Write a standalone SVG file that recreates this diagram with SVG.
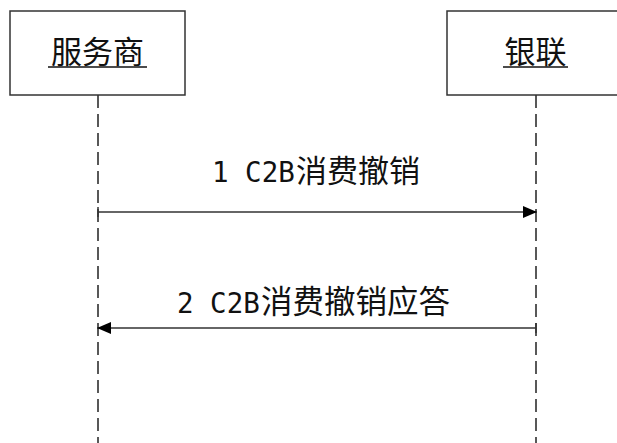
<svg xmlns="http://www.w3.org/2000/svg" width="617" height="443" viewBox="0 0 617 443">
<defs>
<style>
.box{fill:#fff;stroke:#333;stroke-width:1.5}
.lbl{font-family:"Noto Sans CJK SC","Liberation Sans",sans-serif;font-size:31px;fill:#111;text-anchor:middle}
.life{stroke:#222;stroke-width:1.5;stroke-dasharray:13 6;fill:none}
.msg{stroke:#333;stroke-width:1.5;fill:none}
.mtxt{font-family:"Noto Sans CJK SC","Liberation Sans",sans-serif;font-size:31px;fill:#111}
.lat{font-family:"DejaVu Sans Mono","Liberation Mono",monospace;font-size:27.5px}
</style>
<marker id="ah" viewBox="0 0 14 12" refX="14" refY="6" markerWidth="14" markerHeight="12" markerUnits="userSpaceOnUse" orient="auto">
<path d="M0,0 L14,6 L0,12 Z" fill="#000"/>
</marker>
</defs>
<rect width="617" height="443" fill="#fff"/>
<g id="lifelines">
<line class="life" x1="98" y1="95" x2="98" y2="443"/>
<line class="life" x1="536" y1="95" x2="536" y2="443"/>
</g>
<g id="node-fws">
<rect class="box" x="10" y="11" width="175" height="84"/>
<text class="lbl" x="97.5" y="63">服务商</text>
<line x1="48" y1="67" x2="147" y2="67" stroke="#111" stroke-width="1.5"/>
</g>
<g id="node-yl">
<rect class="box" x="447" y="11" width="180" height="84"/>
<text class="lbl" x="535.5" y="63">银联</text>
<line x1="503" y1="67" x2="568" y2="67" stroke="#111" stroke-width="1.5"/>
</g>
<g id="connectors">
<line class="msg" x1="98" y1="212" x2="537" y2="212" marker-end="url(#ah)"/>
<line x1="98" y1="207" x2="98" y2="217" stroke="#333" stroke-width="1.5"/>
<line class="msg" x1="536" y1="328" x2="97" y2="328" marker-end="url(#ah)"/>
<line x1="536" y1="323" x2="536" y2="333" stroke="#333" stroke-width="1.5"/>
<text class="mtxt" x="212" y="182" xml:space="preserve"><tspan class="lat">1 C2B</tspan><tspan x="296">消费撤销</tspan></text>
<text class="mtxt" x="177" y="313" xml:space="preserve"><tspan class="lat">2 C2B</tspan><tspan x="261" style="font-size:31.5px">消费撤销应答</tspan></text>
</g>
</svg>
